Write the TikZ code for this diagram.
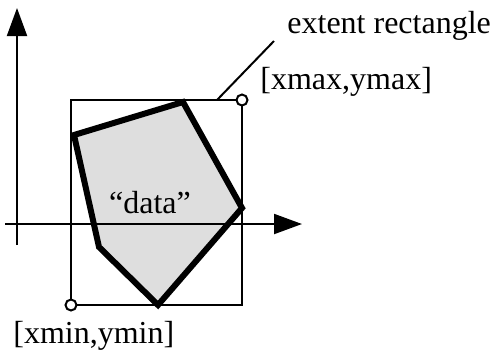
\documentclass[tikz,border=0pt]{standalone}
\usepackage{fontspec}
\setmainfont{Liberation Serif}
\usetikzlibrary{arrows.meta}
\tikzset{
  frame/.style={line width=1pt},
  hull/.style={line width=3pt,line join=miter},
  corner/.style={circle,draw,fill=white,line width=1pt,inner sep=0pt,minimum size=5.5pt},
  labeltext/.style={font=\fontsize{16}{19}\selectfont,inner sep=0pt,anchor=base west},
  axis/.style={frame,-{Triangle[length=14pt,width=10pt]}}
}

\begin{document}
\begin{tikzpicture}[x=0.5pt,y=-0.5pt]
  \useasboundingbox (0,0) rectangle (497,350);
  \coordinate (xaxis0) at (5,224);
  \coordinate (xaxis1) at (302,224);
  \coordinate (yaxis0) at (17,245);
  \coordinate (yaxis1) at (17,8);
  \coordinate (lo) at (71,305);
  \coordinate (hi) at (242,100);
  \foreach \n/\px/\py in {p1/74/135,p2/183/102,p3/242/208,p4/158/305,p5/99/247}
    \coordinate (\n) at (\px,\py);

  \fill[black!13] (p1) -- (p2) -- (p3) -- (p4) -- (p5) -- cycle;
  \draw[axis] (xaxis0) -- (xaxis1);
  \draw[axis] (yaxis0) -- (yaxis1);
  \draw[frame] (lo) rectangle (hi);
  \draw[hull] (p1) -- (p2) -- (p3) -- (p4) -- (p5) -- cycle;

  \node[corner] (min) at (lo) {};
  \node[corner] (max) at (hi) {};

  \node[labeltext] (extent) at (287,33) {extent rectangle};
  \node[labeltext] (maxlabel) at (260,89) {[xmax,ymax]};
  \node[labeltext] (minlabel) at (13,343) {[xmin,ymin]};
  \node[labeltext,anchor=base] (data) at (150,213) {“data”};

  \coordinate (tag) at (217,100);
  \coordinate (tagend) at (274,41);
  \draw[frame] (tag) -- (tagend);
\end{tikzpicture}
\end{document}
